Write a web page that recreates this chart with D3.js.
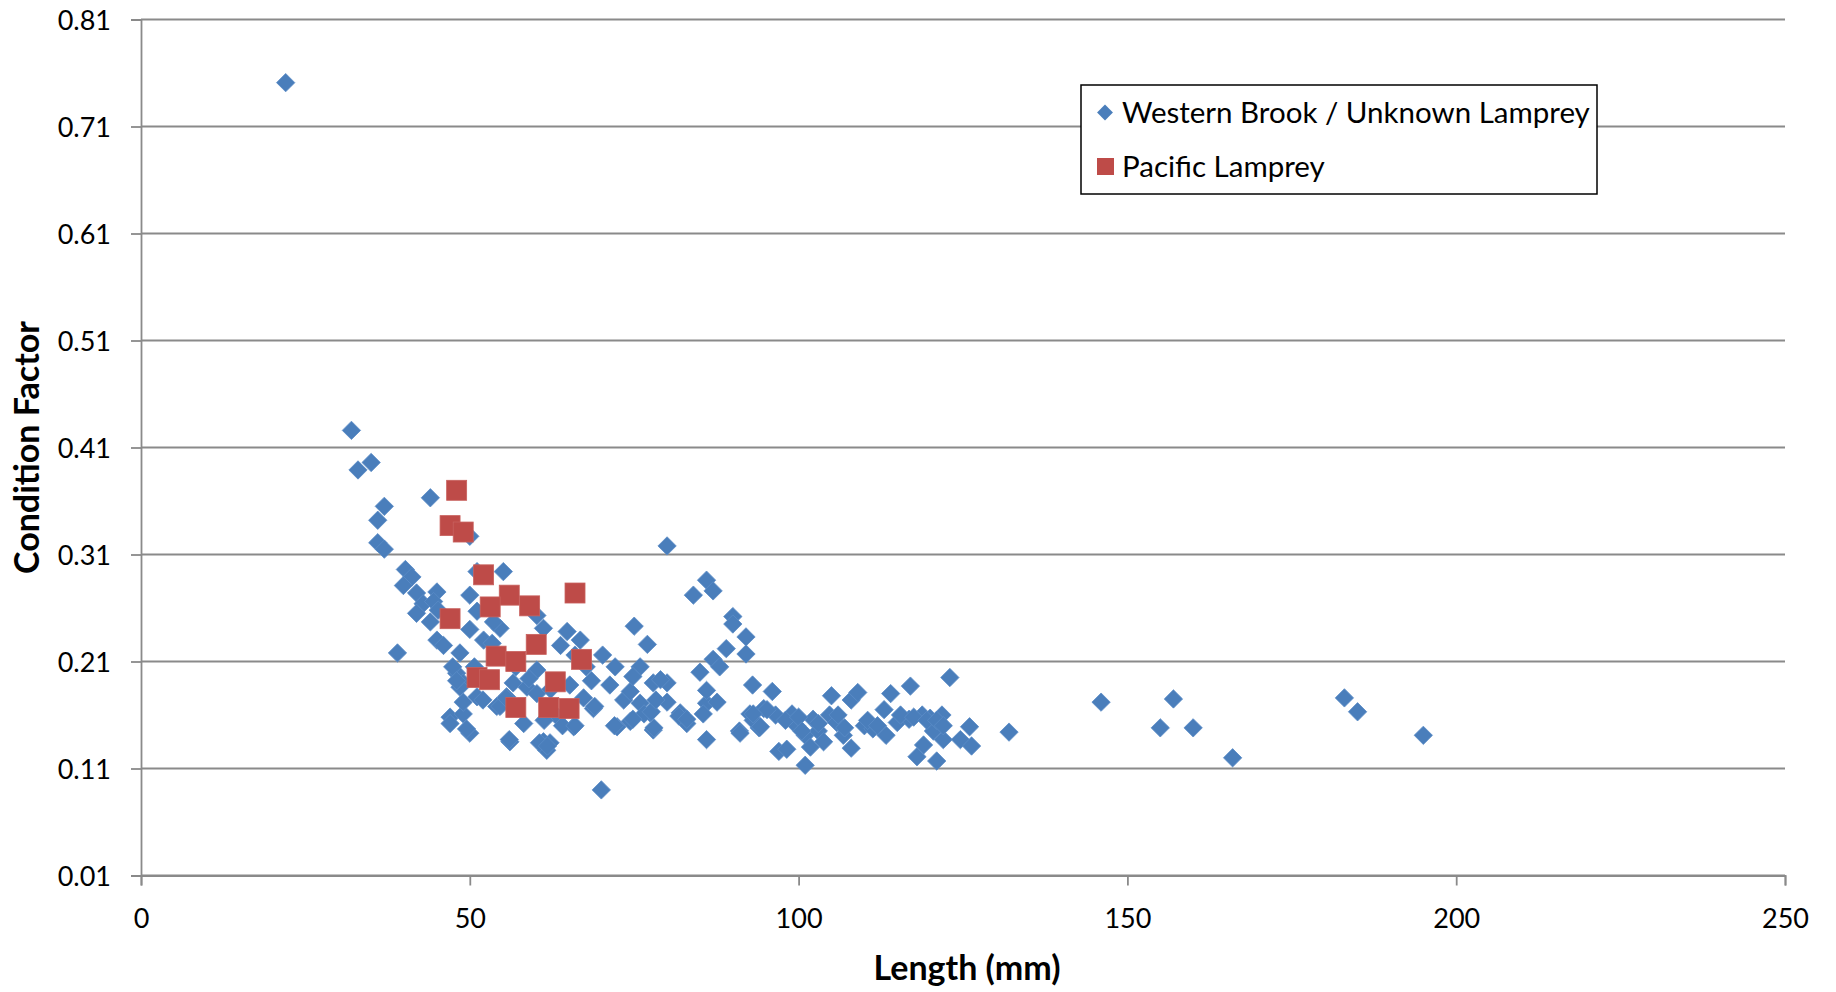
<!DOCTYPE html>
<html>
<head>
<meta charset="utf-8"/>
<title>Condition factor vs length</title>
<script src="https://d3js.org/d3.v7.min.js"></script>
<style>
  body { margin: 0; background: #fff; }
  svg text { font-family: "Lato", "Open Sans", sans-serif; fill: #000; }
  .tick-label { font-size: 27px; }
  .axis-title { font-size: 34px; font-weight: bold; }
  .legend-text { font-size: 29.5px; }
</style>
</head>
<body>
<svg id="chart" width="1836" height="992"></svg>
<script>
// axis ticks
var xTicks = [0, 50, 100, 150, 200, 250];
var yTicks = [0.01, 0.11, 0.21, 0.31, 0.41, 0.51, 0.61, 0.71, 0.81];

var seriesNames = ["Western Brook / Unknown Lamprey", "Pacific Lamprey"];

// [length (mm), condition factor]
var westernBrook = [
  [22,0.751],
  [32,0.426],[33,0.389],[35,0.396],[44,0.363],[37,0.355],[36,0.342],[36,0.321],[37,0.315],[50,0.327],
  [39,0.218],
  [40.2,0.296],[41.2,0.289],[39.9,0.281],[41.9,0.274],[45,0.275],[42.9,0.264],[44.5,0.266],[41.9,0.255],
  [44,0.247],[45.2,0.258],[50,0.272],[51.1,0.294],[55.1,0.294],[51.1,0.257],[50,0.24],[54.6,0.241],
  [53.6,0.247],[52.1,0.23],[45,0.23],[46,0.225],[48.5,0.218],[60.2,0.253],[61.2,0.241],[48,0.199],
  [49,0.19],[56.6,0.19],[58.7,0.186],[60.2,0.202],[60.2,0.18],[51.1,0.177],[55.6,0.177],[47,0.158],
  [49,0.161],[54.1,0.168],[47,0.152],[50,0.143],[56.1,0.135],[58.2,0.152],[48.5,0.186],[54.6,0.168],
  [61.2,0.135],[61.7,0.127],[62.2,0.134],[65.8,0.149],[68.8,0.166],[71.3,0.188],[72.4,0.149],
  [74.4,0.154],[75.9,0.205],[77.9,0.19],[80,0.19],[77.4,0.162],[77.9,0.146],[82,0.162],[83,0.152],
  [85,0.2],[86,0.171],[86,0.137],[73.4,0.174],[74.4,0.182],[75.9,0.171],
  [53.4,0.227],[57,0.205],[63.8,0.225],[64.8,0.238],[66,0.216],[66.8,0.23],[67.7,0.205],[68.5,0.192],
  [67.3,0.176],[69,0.168],[65.2,0.188],[63.4,0.158],[64.1,0.15],[62.3,0.184],[61.3,0.155],[59,0.194],
  [70,0.09],[70.2,0.216],[72.1,0.205],[72,0.15],[74.8,0.196],[75,0.243],[77,0.226],[76.5,0.161],
  [78,0.148],[79,0.193],[80,0.318],[80,0.172],[81.8,0.159],[84,0.272],[85.5,0.161],[86,0.286],
  [87,0.276],[87,0.212],[88,0.205],[87.6,0.172],[86,0.183],[89,0.222],[90,0.252],[90,0.245],
  [92,0.233],[92,0.217],[91,0.145],[93,0.188],[92.6,0.161],[94,0.148],[94.7,0.166],[96,0.182],
  [97,0.126],[98.2,0.128],[99,0.161],[99.7,0.15],[101,0.141],[101,0.113],[101.8,0.13],[102.2,0.156],
  [103,0.145],[103.8,0.135],[104.7,0.16],[105,0.178],[105.8,0.153],[106.8,0.141],[108,0.129],
  [108,0.174],[109,0.181],[110,0.15],[111.3,0.147],[113,0.165],[113.3,0.141],[114,0.18],[115,0.153],
  [117,0.187],[116.8,0.156],[118,0.121],[118.8,0.16],[119,0.132],[120,0.157],[120.5,0.145],
  [121,0.117],[121.8,0.16],[122,0.137],[123,0.195],[124.6,0.137],[126,0.149],[126.3,0.131],
  [132,0.144],[146,0.172],[155,0.148],[157,0.175],[160,0.148],[166,0.12],[183,0.176],[185,0.163],
  [195,0.141],
  [55.5,0.176],[56,0.137],[60.6,0.134],[61.8,0.131],[66,0.15],[74.8,0.156],[77.6,0.163],[78.3,0.174],
  [83,0.156],[49.5,0.147],[49,0.172],[50.7,0.205],[52,0.174],[47.4,0.205],[48,0.192],
  [96.5,0.16],[98,0.155],[100,0.158],[100.5,0.145],[103,0.152],[106,0.16],[107,0.148],[110.5,0.155],
  [112,0.15],[115.5,0.16],[117.5,0.158],[119.5,0.155],[121,0.155],[122,0.15],
  [91.1,0.143],[93.1,0.155],[94.2,0.149],[95.2,0.165],[93.1,0.161]
];

var pacific = [
  [48,0.370],[47,0.337],[49,0.331],[52.1,0.291],[56,0.272],[53.1,0.261],[59.1,0.262],[47,0.250],
  [66,0.274],[60.1,0.226],[54,0.215],[57,0.210],[67,0.212],[51.1,0.195],[53,0.193],[63,0.191],
  [57,0.167],[62,0.167],[65.1,0.166]
];

var svg = d3.select("#chart");

var x = d3.scaleLinear().domain([0, 250]).range([141, 1785]);
var y = d3.scaleLinear().domain([0.01, 0.81]).range([875.5, 19.5]);

// gridlines
svg.append("g").selectAll("line")
  .data(yTicks)
  .enter().append("line")
    .attr("x1", x(0)).attr("x2", x(250))
    .attr("y1", function(d){ return y(d); })
    .attr("y2", function(d){ return y(d); })
    .attr("stroke", "#8a8a8a")
    .attr("stroke-width", 1.8);

// y axis
var yAxis = d3.axisLeft(y).tickValues(yTicks).tickSize(10).tickFormat(d3.format(".2f"));
var gy = svg.append("g").attr("transform", "translate(" + x(0) + ",0)").call(yAxis);
gy.attr("font-family", null).attr("font-size", null);
gy.select(".domain").attr("stroke", "#8a8a8a").attr("stroke-width", 1.8);
gy.selectAll(".tick line").attr("stroke", "#8a8a8a").attr("stroke-width", 1.8);
gy.selectAll(".tick text")
  .attr("class", "tick-label")
  .attr("x", -30).attr("dy", "0.36em");

// x axis
var xAxis = d3.axisBottom(x).tickValues(xTicks).tickSize(10).tickFormat(d3.format("d"));
var gx = svg.append("g").attr("transform", "translate(0," + y(0.01) + ")").call(xAxis);
gx.attr("font-family", null).attr("font-size", null);
gx.select(".domain").attr("stroke", "#8a8a8a").attr("stroke-width", 1.8);
gx.selectAll(".tick line").attr("stroke", "#8a8a8a").attr("stroke-width", 1.8);
gx.selectAll(".tick text")
  .attr("class", "tick-label")
  .attr("y", 52).attr("dy", null);

// axis titles
svg.append("text")
  .attr("class", "axis-title")
  .attr("x", (x(0) + x(250)) / 2 + 4).attr("y", 980)
  .attr("text-anchor", "middle")
  .text("Length (mm)");

svg.append("text")
  .attr("class", "axis-title")
  .attr("transform", "translate(39," + ((y(0.01) + y(0.81)) / 2) + ") rotate(-90)")
  .attr("text-anchor", "middle")
  .text("Condition Factor");

// points
var diamond = d3.symbol().type(d3.symbolDiamond2).size(215);
svg.append("g").selectAll("path")
  .data(westernBrook)
  .enter().append("path")
    .attr("d", diamond)
    .attr("transform", function(d){ return "translate(" + x(d[0]) + "," + y(d[1]) + ")"; })
    .attr("fill", "#4a7ebb")
    .attr("stroke", "#5a8bc6")
    .attr("stroke-width", 0.8);

var sq = 20;
svg.append("g").selectAll("rect")
  .data(pacific)
  .enter().append("rect")
    .attr("x", function(d){ return x(d[0]) - sq / 2; })
    .attr("y", function(d){ return y(d[1]) - sq / 2; })
    .attr("width", sq).attr("height", sq)
    .attr("fill", "#be4b48")
    .attr("stroke", "#c8605d")
    .attr("stroke-width", 0.8);

// legend
var legend = svg.append("g");
legend.append("rect")
  .attr("x", 1081).attr("y", 85).attr("width", 516).attr("height", 109)
  .attr("fill", "#fff").attr("stroke", "#000").attr("stroke-width", 1.5);

legend.append("path")
  .attr("d", d3.symbol().type(d3.symbolDiamond2).size(160))
  .attr("transform", "translate(1105,112.5)")
  .attr("fill", "#4a7ebb");
legend.append("rect")
  .attr("x", 1097).attr("y", 158).attr("width", 17).attr("height", 17)
  .attr("fill", "#be4b48");

legend.selectAll("text.legend-text")
  .data(seriesNames)
  .enter().append("text")
    .attr("class", "legend-text")
    .attr("x", 1122)
    .attr("y", function(d, i){ return 112.5 + i * 53.5; })
    .attr("dy", "0.36em")
    .text(function(d){ return d; });
</script>
</body>
</html>
